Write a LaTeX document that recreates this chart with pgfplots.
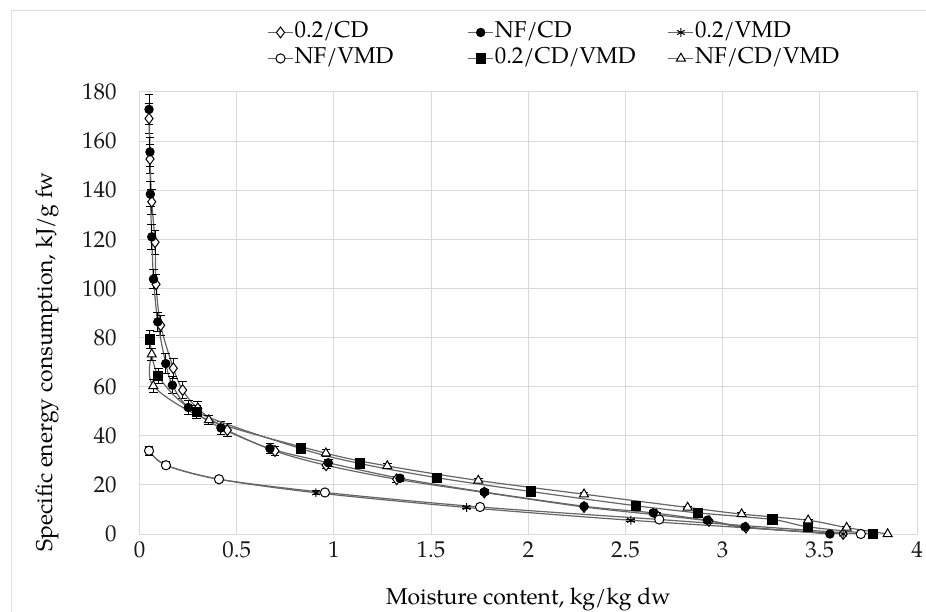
\documentclass[border=0pt]{standalone}
\usepackage{fontspec}
\setmainfont{TeX Gyre Pagella}
\usepackage{pgfplots}
\pgfplotsset{compat=1.18}
\usepackage{pgfplotstable}

% x  y  err
\pgfplotstableread{
x y e
0.049 169.2 6
0.054 152.7 6
0.063 135.3 5
0.080 118.8 5
0.085 101.7 4
0.109 85.0 4
0.174 67.5 4
0.222 58.6 3.5
0.300 51.1 3
0.452 42.3 2.5
0.697 33.8 2
0.960 28.0 1.5
1.323 22.3 1.2
1.774 16.9 1
2.287 11.0 0.8
2.660 7.8 0.8
2.930 5.3 0.6
3.120 2.6 0.5
3.620 0.0 0
}\cdA
\pgfplotstableread{
x y e
0.049 172.9 6
0.054 155.6 6
0.056 138.4 5
0.063 121.0 5
0.072 103.8 4
0.094 86.4 4
0.135 69.4 4
0.169 60.6 3.5
0.251 51.5 3
0.419 43.2 2.5
0.671 34.8 2
0.971 29.0 1.5
1.340 22.7 1.2
1.774 17.1 1
2.287 11.3 0.8
2.643 8.6 0.8
2.921 5.6 0.6
3.115 2.9 0.5
3.552 0.0 0
}\cdB
\pgfplotstableread{
x y e
0.049 33.9 1.8
0.136 28.0 1.4
0.409 22.3 1
0.908 16.8 0.8
1.683 10.8 0.6
2.528 5.6 0.5
3.620 0.0 0
}\vmdA
\pgfplotstableread{
x y e
0.049 33.9 1.8
0.136 28.0 1.4
0.409 22.3 1
0.954 16.9 0.8
1.752 11.0 0.6
2.674 5.9 0.5
3.711 0.0 0
}\vmdB
\pgfplotstableread{
x y e
0.054 79.2 3.7
0.097 64.4 3
0.294 49.7 2.5
0.829 34.8 1.5
1.134 28.7 1.2
1.532 22.9 1
2.013 17.3 0.8
2.554 11.5 0.8
2.875 8.6 0.6
3.257 5.9 0.5
3.440 2.9 0.5
3.775 0.0 0
}\cvA
\pgfplotstableread{
x y e
0.063 73.2 2.4
0.071 60.3 2.5
0.357 46.4 2
0.959 32.9 1.5
1.275 27.7 1.2
1.743 21.8 1
2.287 16.2 0.8
2.820 10.8 0.6
3.098 8.1 0.5
3.440 5.6 0.5
3.638 2.6 0.5
3.849 0.0 0
}\cvB

\pgfplotsset{
  ser/.style={color=black!60, line width=0.6bp, smooth, tension=0.5,
    error bars/y dir=both, error bars/y explicit,
    error bars/error bar style={black, line width=0.5bp},
    error bars/error mark options={rotate=90, black, mark size=2.2bp, line width=0.5bp}},
}

\begin{document}
\fontsize{11.5}{13.8}\selectfont
\begin{tikzpicture}
\useasboundingbox (0,0) rectangle (463bp,306bp);
\draw[gray!25, line width=0.5bp] (5.5bp,0) -- (5.5bp,300.5bp) -- (463bp,300.5bp);
\begin{axis}[
    at={(69.75bp,39bp)}, anchor=south west,
    scale only axis, width=388.75bp, height=221bp,
    xmin=0, xmax=4, ymin=0, ymax=180,
    xtick={0,0.5,1,1.5,2,2.5,3,3.5,4},
    ytick={0,20,...,180},
    grid=major,
    major grid style={gray!30, line width=0.5bp},
    axis line style={gray!30, line width=0.5bp},
    major tick length=0pt,
    /pgf/number format/assume math mode=true,
    yticklabel style={anchor=east, xshift=-7.5bp, text=black!90},
    xticklabel style={text=black!90},
    xlabel={Moisture content, kg/kg dw},
    ylabel={Specific energy consumption, kJ/g fw},
    xlabel style={at={(axis description cs:0.5,-0.149)}, anchor=center},
    ylabel style={at={(axis description cs:-0.119,0.39)}, anchor=center},
    legend columns=3,
    legend style={at={(0.164,1.165)}, anchor=north west, draw=none, fill=none,
      inner sep=0pt, row sep=0pt,
      nodes={text width=86bp, align=left, inner xsep=0.5bp, inner ysep=0.5bp,
        text height=8.5bp, text depth=3.5bp}},
    legend image code/.code={\draw[mark repeat=2, mark phase=2]
      plot coordinates {(0bp,0bp) (6.25bp,0bp) (12.5bp,0bp)};},
]
\addplot[ser, mark=diamond*, mark size=2.7bp, mark options={black, solid, line width=0.5bp, fill=white}] table[x=x, y=y, y error=e] {\cdA};
\addlegendentry{0.2/CD}
\addplot[ser, mark=*, mark size=2.1bp, mark options={black, solid, line width=0.5bp, fill=black}] table[x=x, y=y, y error=e] {\cdB};
\addlegendentry{NF/CD}
\addplot[ser, mark=asterisk, mark size=2.2bp, mark options={black, solid, line width=0.5bp}] table[x=x, y=y, y error=e] {\vmdA};
\addlegendentry{0.2/VMD}
\addplot[ser, mark=*, mark size=2.3bp, mark options={black, solid, line width=0.5bp, fill=white}] table[x=x, y=y, y error=e] {\vmdB};
\addlegendentry{NF/VMD}
\addplot[ser, mark=square*, mark size=2.3bp, mark options={black, solid, line width=0.5bp, fill=black}] table[x=x, y=y, y error=e] {\cvA};
\addlegendentry{0.2/CD/VMD}
\addplot[ser, mark=triangle*, mark size=2.6bp, mark options={black, solid, line width=0.5bp, fill=white}] table[x=x, y=y, y error=e] {\cvB};
\addlegendentry{NF/CD/VMD}
\end{axis}
\end{tikzpicture}
\end{document}
